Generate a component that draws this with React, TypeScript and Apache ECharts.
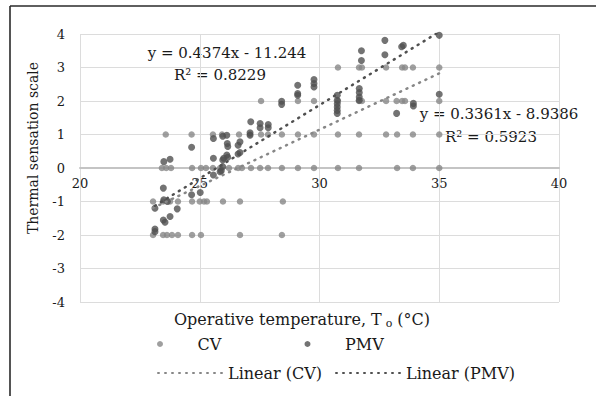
import React, { useEffect, useRef } from "react";
import * as echarts from "echarts";

// ---- axis ticks ----
const X_MIN = 20;
const X_MAX = 40;
const X_STEP = 5;
const Y_MIN = -4;
const Y_MAX = 4;
const Y_STEP = 1;

// ---- CV votes: operative temperatures at each vote level ----
const cvVoteLevels = [3, 2, 1, 0, -1, -2];
const cvAt3 = [30.77, 31.65, 31.77, 32.78, 33.45, 33.57, 33.9, 35];
const cvAt2 = [27.56, 29.1, 29.77, 30.77, 31.65, 31.77, 32.78, 33.22, 33.45, 33.57, 35];
const cvAt1 = [23.58, 24.66, 25.55, 25.93, 26.64, 27.1, 27.56, 27.85, 28.43, 29.1, 29.77, 30.77, 31.65, 32.78, 33.24, 33.9, 35];
const cvAt0 = [23.42, 23.6, 23.8, 24.68, 25.05, 25.26, 25.55, 25.85, 26.22, 26.6, 26.76, 27.14, 27.52, 27.85, 28.43, 29.1, 29.77, 30.77, 31.65, 33.24, 33.9, 35];
const cvAtM1 = [23.05, 23.47, 23.76, 24.09, 24.68, 25.0, 25.18, 25.3, 25.97, 26.68, 28.47];
const cvAtM2 = [23.05, 23.47, 23.63, 23.84, 24.09, 24.68, 25.05, 26.68, 28.43];
const cvTempsByLevel = [cvAt3, cvAt2, cvAt1, cvAt0, cvAtM1, cvAtM2];

// ---- PMV points ----
const pmvTemp = [
  23.13, 23.13, 23.13, 23.48, 23.48, 23.55, 23.5, 23.76, 23.5, 23.65, 23.76, 24.06,
  24.66, 24.66, 25.02, 25.57, 25.57, 25.57, 25.9, 25.85, 25.96, 25.96, 25.96, 26.13,
  26.15, 26.17, 26.13, 26.17, 26.0, 26.6, 26.68, 26.6, 26.68, 27.1, 27.1, 27.13,
  27.52, 27.52, 27.86, 27.86, 28.42, 28.42, 29.09, 29.09, 29.09, 29.77, 29.77, 29.77,
  30.74, 30.74, 30.74, 30.74, 30.74, 30.74, 31.66, 31.66, 31.66, 31.66, 31.75, 31.75,
  32.73, 32.73, 33.43, 33.5, 33.22, 33.92, 33.92, 35, 35,
];
const pmvValue = [
  -1.2, -1.82, -1.9, -0.6, -1.55, -1.62, 0.19, 0.26, -0.95, -1.0, -1.45, -1.22,
  0.62, -0.8, -0.73, 0.88, 0.29, -0.21, -0.08, -0.11, 0.95, 0.24, 0.04, 0.98,
  0.73, 0.64, 0.39, 0.32, 0.29, 0.68, 0.78, 0.42, 0.46, 0.98, 1.05, 1.38,
  1.33, 1.2, 1.3, 1.2, 1.9, 1.99, 2.47, 2.22, 2.17, 2.64, 2.52, 2.42,
  2.17, 2.02, 1.92, 1.82, 1.72, 1.63, 2.37, 2.25, 2.12, 2.02, 3.5, 3.21,
  3.81, 3.38, 3.62, 3.66, 1.63, 1.93, 1.85, 2.2, 3.96,
];

// ---- trendline coefficients (as printed on the chart) ----
const cvSlope = 0.3361;
const cvIntercept = -8.9386;
const cvR2 = "0.5923";
const pmvSlope = 0.4374;
const pmvIntercept = -11.244;
const pmvR2 = "0.8229";

const SERIF = "'DejaVu Serif', 'Liberation Serif', serif";
const CV_COLOR = "#878787";
const PMV_COLOR = "#505050";

const GRID_TOP = 34;
const GRID_BOTTOM = 94;
const CHART_H = 396;

export default function App() {
  const ref = useRef<HTMLDivElement>(null);

  useEffect(() => {
    if (!ref.current) return;
    const chart = echarts.init(ref.current, undefined, { renderer: "svg" });

    const cvData: number[][] = [];
    cvTempsByLevel.forEach((temps, i) => {
      temps.forEach((t) => cvData.push([t, cvVoteLevels[i]]));
    });
    const pmvData = pmvTemp.map((t, i) => [t, pmvValue[i]]);

    const cvTemps = cvData.map((d) => d[0]);
    const cvLo = Math.min(...cvTemps);
    const cvHi = Math.max(...cvTemps);
    const pmvLo = Math.min(...pmvTemp);
    const pmvHi = Math.max(...pmvTemp);
    const cvTrend = [cvLo, cvHi].map((x) => [x, cvSlope * x + cvIntercept]);
    const pmvTrend = [pmvLo, pmvHi].map((x) => [x, pmvSlope * x + pmvIntercept]);

    const eq = (s: number, b: number) =>
      `y = ${s}x ${b < 0 ? "-" : "+"} ${Math.abs(b)}`;

    // x axis crosses the y axis at 0: shift it up from the grid bottom
    const plotH = CHART_H - GRID_TOP - GRID_BOTTOM;
    const zeroOffset = -plotH * ((0 - Y_MIN) / (Y_MAX - Y_MIN));

    const textStyleBase = { fontFamily: SERIF, color: "#1a1a1a" };

    chart.setOption({
      animation: false,
      backgroundColor: "#ffffff",
      grid: { left: 80, right: 37, top: GRID_TOP, bottom: GRID_BOTTOM, containLabel: false },
      xAxis: {
        type: "value",
        min: X_MIN,
        max: X_MAX,
        interval: X_STEP,
        offset: zeroOffset,
        axisLine: { show: true, onZero: false, lineStyle: { color: "#c4c4c4", width: 2 } },
        axisTick: { show: false },
        axisLabel: { ...textStyleBase, fontSize: 13, margin: 9 },
        splitLine: { show: true, lineStyle: { color: "#dcdcdc", width: 1 } },
      },
      yAxis: {
        type: "value",
        min: Y_MIN,
        max: Y_MAX,
        interval: Y_STEP,
        axisLine: { show: false },
        axisTick: { show: false },
        axisLabel: { ...textStyleBase, fontSize: 13, margin: 15 },
        splitLine: { show: true, lineStyle: { color: "#dcdcdc", width: 1 } },
      },
      legend: [
        {
          data: ["CV", "PMV"],
          left: 157,
          top: 335,
          orient: "horizontal",
          itemWidth: 65,
          itemHeight: 6,
          itemGap: 5,
          padding: 0,
          textStyle: { ...textStyleBase, fontSize: 16, width: 102, lineHeight: 18 },
        },
        {
          data: ["Linear (CV)", "Linear (PMV)"],
          left: 157,
          top: 364,
          orient: "horizontal",
          itemWidth: 65,
          itemHeight: 6,
          itemGap: 5,
          padding: 0,
          itemStyle: { opacity: 0 },
          textStyle: { ...textStyleBase, fontSize: 16, width: 102, lineHeight: 18 },
        },
      ],
      series: [
        {
          name: "CV",
          type: "scatter",
          data: cvData,
          symbol: "circle",
          symbolSize: 6.5,
          itemStyle: { color: CV_COLOR },
          z: 2,
        },
        {
          name: "PMV",
          type: "scatter",
          data: pmvData,
          symbol: "circle",
          symbolSize: 7,
          itemStyle: { color: PMV_COLOR },
          z: 3,
        },
        {
          name: "Linear (CV)",
          type: "line",
          data: cvTrend,
          symbol: "none",
          lineStyle: { color: CV_COLOR, width: 2.5, type: [1, 6], cap: "round" },
          itemStyle: { color: CV_COLOR },
          z: 4,
        },
        {
          name: "Linear (PMV)",
          type: "line",
          data: pmvTrend,
          symbol: "none",
          lineStyle: { color: PMV_COLOR, width: 2.5, type: [1, 6], cap: "round" },
          itemStyle: { color: PMV_COLOR },
          z: 4,
        },
      ],
      graphic: [
        {
          type: "line",
          shape: { x1: 10, y1: 6, x2: 596, y2: 6 },
          style: { stroke: "#2a2a2a", lineWidth: 1.6 },
          silent: true,
        },
        {
          type: "line",
          shape: { x1: 10, y1: 6, x2: 10, y2: 396 },
          style: { stroke: "#2a2a2a", lineWidth: 1.6 },
          silent: true,
        },
        {
          type: "text",
          x: 33,
          y: 148,
          rotation: Math.PI / 2,
          style: {
            text: "Thermal sensation scale",
            fill: "#1a1a1a",
            font: `14px ${SERIF}`,
            align: "center",
            verticalAlign: "middle",
            textAlign: "center",
            textVerticalAlign: "middle",
          },
        },
        {
          type: "text",
          x: 302,
          y: 319,
          style: {
            text: "{a|Operative temperature, T}{s|o}{a|(°C)}",
            fill: "#1a1a1a",
            align: "center",
            verticalAlign: "middle",
            textAlign: "center",
            textVerticalAlign: "middle",
            rich: {
              a: { fontFamily: SERIF, fontSize: 16, lineHeight: 20, fill: "#1a1a1a", color: "#1a1a1a" },
              s: {
                fontFamily: SERIF,
                fontSize: 11,
                lineHeight: 13,
                verticalAlign: "bottom",
                padding: [0, 5, 0, 4],
                fill: "#1a1a1a",
                color: "#1a1a1a",
              },
            },
          },
        },
        {
          type: "text",
          x: 227,
          y: 53,
          style: {
            text: eq(pmvSlope, pmvIntercept),
            fill: "#1a1a1a",
            font: `15px ${SERIF}`,
            align: "center",
            verticalAlign: "middle",
            textAlign: "center",
            textVerticalAlign: "middle",
          },
        },
        {
          type: "text",
          x: 220,
          y: 75,
          style: {
            text: `R² = ${pmvR2}`,
            fill: "#1a1a1a",
            font: `15px ${SERIF}`,
            align: "center",
            verticalAlign: "middle",
            textAlign: "center",
            textVerticalAlign: "middle",
          },
        },
        {
          type: "text",
          x: 499,
          y: 114,
          style: {
            text: eq(cvSlope, cvIntercept),
            fill: "#1a1a1a",
            font: `15px ${SERIF}`,
            align: "center",
            verticalAlign: "middle",
            textAlign: "center",
            textVerticalAlign: "middle",
          },
        },
        {
          type: "text",
          x: 491,
          y: 137,
          style: {
            text: `R² = ${cvR2}`,
            fill: "#1a1a1a",
            font: `15px ${SERIF}`,
            align: "center",
            verticalAlign: "middle",
            textAlign: "center",
            textVerticalAlign: "middle",
          },
        },
      ],
    });

    return () => chart.dispose();
  }, []);

  return (
    <div
      ref={ref}
      style={{ position: "fixed", left: 0, top: 0, width: 596, height: 396, background: "#fff" }}
    />
  );
}
